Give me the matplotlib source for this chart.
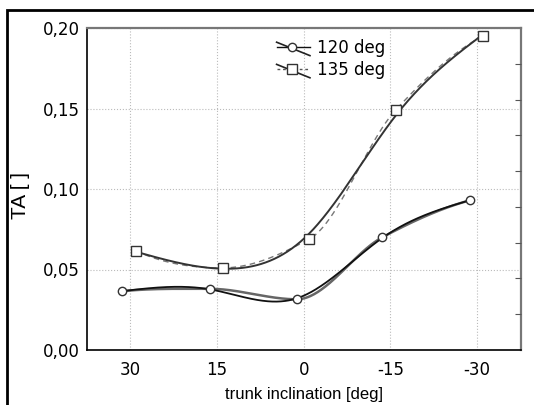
import numpy as np
import matplotlib
matplotlib.use("Agg")
import matplotlib.pyplot as plt
from matplotlib.lines import Line2D
from matplotlib.legend_handler import HandlerBase
from matplotlib.patches import Rectangle

# ---- data ----
x_ticks = [30, 15, 0, -15, -30]
x_tick_labels = ["30", "15", "0", "-15", "-30"]
y_ticks = [0.00, 0.05, 0.10, 0.15, 0.20]
y_tick_labels = ["0,00", "0,05", "0,10", "0,15", "0,20"]

x_120 = [31.4, 16.2, 1.2, -13.6, -28.8]
ta_120 = [0.0365, 0.038, 0.0315, 0.070, 0.093]
x_135 = [29.0, 14.0, -1.0, -15.9, -31.0]
ta_135 = [0.0615, 0.051, 0.069, 0.149, 0.195]

labels = ["120 deg", "135 deg"]


def pchip(x, y, xs):
    x = np.asarray(x, float)
    y = np.asarray(y, float)
    o = np.argsort(x)
    x, y = x[o], y[o]
    h = np.diff(x)
    delta = np.diff(y) / h
    n = len(x)
    d = np.zeros(n)
    for k in range(1, n - 1):
        if delta[k - 1] * delta[k] > 0:
            w1 = 2 * h[k] + h[k - 1]
            w2 = h[k] + 2 * h[k - 1]
            d[k] = (w1 + w2) / (w1 / delta[k - 1] + w2 / delta[k])
    d[0] = ((2 * h[0] + h[1]) * delta[0] - h[0] * delta[1]) / (h[0] + h[1])
    if np.sign(d[0]) != np.sign(delta[0]):
        d[0] = 0
    d[-1] = ((2 * h[-1] + h[-2]) * delta[-1] - h[-1] * delta[-2]) / (h[-1] + h[-2])
    if np.sign(d[-1]) != np.sign(delta[-1]):
        d[-1] = 0
    out = np.empty_like(xs)
    for j, xv in enumerate(xs):
        i = int(np.clip(np.searchsorted(x, xv) - 1, 0, n - 2))
        t = (xv - x[i]) / h[i]
        h00 = 2 * t ** 3 - 3 * t ** 2 + 1
        h10 = t ** 3 - 2 * t ** 2 + t
        h01 = -2 * t ** 3 + 3 * t ** 2
        h11 = t ** 3 - t ** 2
        out[j] = h00 * y[i] + h10 * h[i] * d[i] + h01 * y[i + 1] + h11 * h[i] * d[i + 1]
    return out


def smoothing_spline(x, y, xs, lam):
    x = np.asarray(x, float)
    y = np.asarray(y, float)
    N = len(xs)
    dx = xs[1] - xs[0]
    W = np.zeros((len(x), N))
    for r, xv in enumerate(x):
        i = int(np.clip(np.searchsorted(xs, xv) - 1, 0, N - 2))
        t = (xv - xs[i]) / dx
        W[r, i] = 1 - t
        W[r, i + 1] = t
    D = np.zeros((N - 2, N))
    for i in range(N - 2):
        D[i, i:i + 3] = [1, -2, 1]
    D /= dx ** 2
    A = W.T @ W + lam * dx * D.T @ D
    return np.linalg.solve(A, W.T @ y)


class DiagHandler(HandlerBase):
    def __init__(self, ls, lc, marker, ms):
        super().__init__()
        self.ls, self.lc, self.marker, self.ms = ls, lc, marker, ms

    def create_artists(self, legend, orig_handle, xdescent, ydescent,
                       width, height, fontsize, trans):
        y0 = height / 2 - ydescent
        x0, x1 = -xdescent, width - xdescent
        hline = Line2D([x0, x1], [y0, y0], ls=self.ls, color=self.lc, lw=1.0, transform=trans)
        diag = Line2D([x0, x1], [y0 + height * 0.4, y0 - height * 0.75],
                      ls="-", color="#222222", lw=1.2, transform=trans)
        mk = Line2D([(x0 + x1) / 2 - 1], [y0], marker=self.marker, ms=self.ms, mfc="white",
                    mec="#333333", mew=1.0, ls="none", transform=trans)
        return [hline, diag, mk]


plt.rcParams["font.family"] = ["DejaVu Sans"]

fig = plt.figure(figsize=(5.34, 4.05), dpi=100)
ax = fig.add_axes([87 / 534, 1 - 350 / 405, (521 - 87) / 534, (350 - 28) / 405])

xs120 = np.linspace(min(x_120), max(x_120), 400)
xs135 = np.linspace(min(x_135), max(x_135), 400)

# 120 deg
ax.plot(xs120, pchip(x_120, ta_120, xs120), color="#666666", lw=1.8, zorder=3)
ax.plot(xs120, smoothing_spline(x_120, ta_120, xs120, 8.0), color="#111111", lw=1.3, zorder=3)
ax.plot(x_120, ta_120, ls="none", marker="o", ms=6, mfc="white", mec="#333333", mew=1.0, zorder=4)

# 135 deg
ax.plot(xs135, pchip(x_135, ta_135, xs135), color="#777777", lw=1.0, ls=(0, (4, 3)), zorder=3)
ax.plot(xs135, smoothing_spline(x_135, ta_135, xs135, 60.0), color="#333333", lw=1.4, zorder=3)
ax.plot(x_135, ta_135, ls="none", marker="s", ms=7, mfc="white", mec="#333333", mew=1.0, zorder=4)

ax.set_xlim(37.5, -37.6)
ax.set_ylim(0, 0.2)
ax.set_xticks(x_ticks)
ax.set_xticklabels(x_tick_labels)
ax.set_yticks(y_ticks)
ax.set_yticklabels(y_tick_labels)
ax.tick_params(axis="y", which="both", length=0, labelsize=12, pad=5)
ax.tick_params(axis="x", which="both", length=0, labelsize=12, pad=8)
ax.grid(True, color="#bbbbbb", ls=":", lw=0.8)
ax.set_axisbelow(True)

for s in ["left", "bottom"]:
    ax.spines[s].set_color("black")
    ax.spines[s].set_linewidth(1.2)
for s in ["top", "right"]:
    ax.spines[s].set_color("#777777")
    ax.spines[s].set_linewidth(1.6)

# right-side inward ticks
sec = ax.twinx()
sec.set_ylim(0, 0.2)
sec.set_yticks([0.2 * k / 9 for k in range(1, 9)])
sec.tick_params(axis="y", direction="in", length=4, color="#555555", labelright=False)
for s in sec.spines.values():
    s.set_visible(False)

ax.set_xlabel("trunk inclination [deg]", family="Liberation Sans", fontsize=12, labelpad=6)
ax.set_ylabel("TA [ ]", family="Liberation Sans", fontsize=15)
ax.yaxis.set_label_coords(-0.131, 0.48)

h1 = Line2D([], [])
h2 = Line2D([], [])
leg = ax.legend([h1, h2], labels, loc="upper left", bbox_to_anchor=(0.41, 1.003),
                frameon=False, fontsize=12, handlelength=2.0, handletextpad=0.45,
                labelspacing=0.25, borderaxespad=0.3,
                handler_map={h1: DiagHandler("-", "#111111", "o", 6),
                             h2: DiagHandler((0, (2, 2)), "#555555", "s", 7)})

# outer black frame (partially visible)
fig.patches.append(Rectangle((7 / 534, -0.1), 1.2, 1 - 10 / 405 + 0.1, transform=fig.transFigure,
                             fill=False, ec="black", lw=2.0))

fig.savefig("out.png", dpi=100)
